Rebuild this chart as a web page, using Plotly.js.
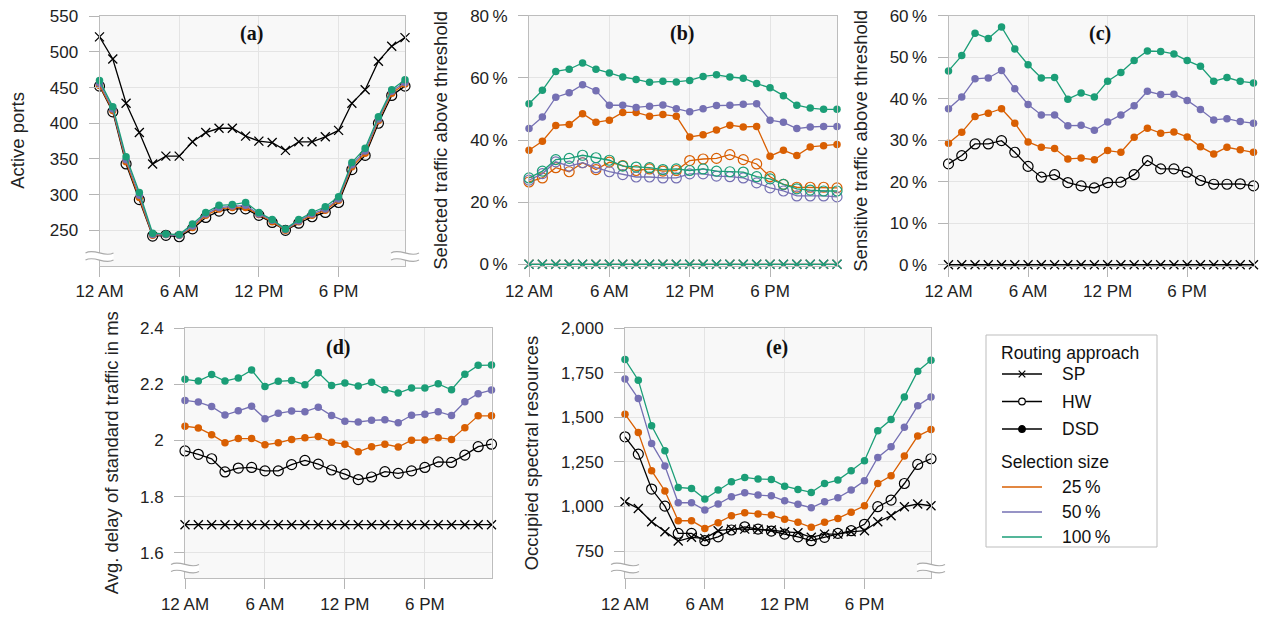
<!DOCTYPE html>
<html>
<head>
<meta charset="utf-8">
<script src="https://cdn.plot.ly/plotly-3.0.1.min.js"></script>
<style>html,body{margin:0;padding:0;background:#fff;}#chart{width:1262px;height:617px;}</style>
</head>
<body>
<div id="chart"></div>
<script>
// ---------------- data ----------------
const hours = [0,1,2,3,4,5,6,7,8,9,10,11,12,13,14,15,16,17,18,19,20,21,22,23];
const tickVals = [0, 6, 12, 18];
const tickLabels = ["12 AM", "6 AM", "12 PM", "6 PM"];
const A_ticks = [250, 300, 350, 400, 450, 500, 550];

// (a) Active ports
const A_SP     = [521,490,428,387,343,354,354,374,387,393,393,382,375,373,362,374,374,381,390,428,447,487,508,520];
const A_HW     = [452,416,343,293,242,243,241,252,268,277,280,280,271,261,250,260,269,275,289,335,355,400,439,452];
const A_DSD25  = [453,418,346,296,243,244,243,254,271,280,282,282,272,262,250,262,271,278,292,339,358,404,442,455];
const A_DSD50  = [456,420,349,299,244,244,243,256,273,282,284,285,273,264,251,263,273,280,294,342,361,406,445,457];
const A_DSD100 = [460,423,353,303,246,245,244,259,275,285,286,289,275,265,252,265,275,283,297,345,365,409,447,461];

// (b) Selected traffic above threshold (%)
const B_SP     = [0,0,0,0,0,0,0,0,0,0,0,0,0,0,0,0,0,0,0,0,0,0,0,0];
const B_HW25   = [26.5,27.8,31.1,29.8,32.7,30.5,32.9,31.8,30.2,30.7,30.0,30.2,33.4,33.9,34.1,35.3,33.7,32.3,28.2,25.7,24.8,24.8,24.8,24.6];
const B_HW50   = [27.1,29.2,33.0,31.6,32.7,31.1,29.8,28.9,28.1,28.1,27.8,27.8,29.1,29.1,28.4,28.2,27.8,26.2,24.6,23.6,22.0,22.0,22.0,21.7];
const B_HW100  = [27.8,30.0,33.7,34.1,35.1,34.3,33.5,31.6,31.3,31.1,30.5,30.7,30.2,30.7,30.0,29.8,29.7,28.2,27.5,25.7,24.3,23.9,23.6,23.6];
const B_DSD25  = [36.7,39.6,44.7,45.0,48.5,45.7,46.4,48.9,48.9,47.7,48.2,47.7,41.0,41.7,43.2,44.8,44.2,44.4,34.8,36.7,35.0,37.8,38.2,38.6];
const B_DSD50  = [43.7,47.4,53.8,55.2,57.8,55.9,51.2,51.2,50.5,50.9,51.3,50.1,49.1,50.1,51.1,51.2,51.5,51.7,46.4,45.7,43.7,44.2,44.4,44.4];
const B_DSD100 = [51.7,56.0,62.1,62.8,64.8,62.8,61.6,60.3,59.5,58.6,58.9,58.7,59.2,60.5,61.0,60.3,59.9,58.2,56.8,54.3,51.2,50.3,49.9,49.9];

// (c) Sensitive traffic above threshold (%)
const C_SP     = [0,0,0,0,0,0,0,0,0,0,0,0,0,0,0,0,0,0,0,0,0,0,0,0];
const C_HW     = [24.3,26.3,29.1,29.1,29.9,27.1,23.7,21.1,21.7,19.8,19.0,18.5,19.8,19.9,21.7,25.1,23.1,23.1,22.3,20.3,19.4,19.4,19.5,19.0];
const C_DSD25  = [29.3,31.9,35.7,36.5,37.6,34.1,29.6,28.3,28.0,25.5,25.7,25.3,27.5,27.1,30.7,32.9,31.7,32.0,30.8,28.4,26.7,28.3,27.7,27.1];
const C_DSD50  = [37.6,40.4,44.8,45.0,46.8,42.4,38.6,36.1,36.1,33.5,33.6,32.4,34.4,36.1,38.3,41.8,41.0,41.1,39.6,37.4,34.9,35.2,34.5,34.1];
const C_DSD100 = [46.7,50.4,55.8,54.5,57.3,52.0,48.2,45.0,45.1,39.9,41.4,40.4,44.2,46.3,49.2,51.5,51.4,50.8,49.2,47.8,44.2,45.1,44.2,43.8];

// (d) Avg. delay of standard traffic (ms)
const D_SP     = [1.7,1.7,1.7,1.7,1.7,1.7,1.7,1.7,1.7,1.7,1.7,1.7,1.7,1.7,1.7,1.7,1.7,1.7,1.7,1.7,1.7,1.7,1.7,1.7];
const D_HW     = [1.963,1.951,1.935,1.888,1.902,1.904,1.892,1.892,1.914,1.929,1.916,1.895,1.880,1.861,1.870,1.889,1.883,1.892,1.904,1.924,1.922,1.948,1.978,1.987];
const D_DSD25  = [2.051,2.045,2.021,1.992,2.007,2.007,1.985,1.992,2.004,2.010,2.014,1.994,1.987,1.960,1.978,1.987,1.977,2.001,2.002,2.010,2.004,2.046,2.088,2.088];
const D_DSD50  = [2.143,2.137,2.121,2.091,2.106,2.122,2.078,2.097,2.105,2.103,2.119,2.089,2.069,2.066,2.072,2.074,2.063,2.090,2.094,2.103,2.089,2.138,2.167,2.180];
const D_DSD100 = [2.218,2.212,2.235,2.212,2.223,2.251,2.193,2.211,2.214,2.199,2.242,2.196,2.205,2.194,2.208,2.181,2.169,2.187,2.187,2.202,2.181,2.236,2.268,2.269];

// (e) Occupied spectral resources
const E_SP     = [1027,989,914,858,806,827,821,864,873,873,872,868,858,853,827,845,845,858,864,914,948,999,1014,1004];
const E_HW     = [1391,1294,1098,1002,849,849,808,830,868,886,873,862,845,830,808,827,849,864,900,999,1036,1129,1236,1268];
const E_DSD25  = [1518,1415,1201,1087,920,920,877,909,948,965,958,952,929,911,883,911,933,967,1004,1129,1172,1283,1395,1432];
const E_DSD50  = [1715,1606,1354,1227,1021,1021,980,1014,1055,1077,1064,1060,1032,1012,993,1027,1049,1092,1144,1275,1335,1444,1565,1615];
const E_DSD100 = [1825,1709,1453,1313,1107,1101,1042,1092,1139,1163,1154,1152,1114,1096,1079,1129,1148,1201,1257,1425,1488,1615,1759,1821];

// ---------------- styling ----------------
const W = 1262, H = 617;
const COL = {sp:'#000000', c25:'#d95f02', c50:'#7570b3', c100:'#1b9e77'};
const FONT = 'Liberation Sans, Arial, Helvetica, sans-serif';
const TITLE_SIZE = 18.5;
const LEGEND_SIZE = 17.5;
const px = v => v / W;
const py = v => 1 - v / H;

function line(x, y, xa, ya, color, kind) {
  const m = {color: color};
  if (kind === 'sp') { m.symbol = 'x-thin-open'; m.size = 9; m.line = {color: color, width: 1.3}; }
  else if (kind === 'hw') { m.symbol = 'circle-open'; m.size = 10; m.line = {color: color, width: 1.2}; }
  else { m.symbol = 'circle'; m.size = 7.5; m.line = {width: 0}; }
  return {x: x, y: y, xaxis: xa, yaxis: ya, type: 'scatter', mode: 'lines+markers',
          line: {color: color, width: 1.3}, marker: m, cliponaxis: false, showlegend: false, hoverinfo: 'x+y'};
}

const traces = [
  // (a)
  line(hours, A_SP, 'x', 'y', COL.sp, 'sp'),
  line(hours, A_HW, 'x', 'y', COL.sp, 'hw'),
  line(hours, A_DSD25, 'x', 'y', COL.c25, 'dsd'),
  line(hours, A_DSD50, 'x', 'y', COL.c50, 'dsd'),
  line(hours, A_DSD100, 'x', 'y', COL.c100, 'dsd'),
  // (b)
  line(hours, B_HW25, 'x2', 'y2', COL.c25, 'hw'),
  line(hours, B_HW50, 'x2', 'y2', COL.c50, 'hw'),
  line(hours, B_HW100, 'x2', 'y2', COL.c100, 'hw'),
  line(hours, B_DSD25, 'x2', 'y2', COL.c25, 'dsd'),
  line(hours, B_DSD50, 'x2', 'y2', COL.c50, 'dsd'),
  line(hours, B_DSD100, 'x2', 'y2', COL.c100, 'dsd'),
  line(hours, B_SP, 'x2', 'y2', COL.c25, 'sp'),
  line(hours, B_SP, 'x2', 'y2', COL.c50, 'sp'),
  line(hours, B_SP, 'x2', 'y2', COL.c100, 'sp'),
  // (c)
  line(hours, C_SP, 'x3', 'y3', COL.sp, 'sp'),
  line(hours, C_HW, 'x3', 'y3', COL.sp, 'hw'),
  line(hours, C_DSD25, 'x3', 'y3', COL.c25, 'dsd'),
  line(hours, C_DSD50, 'x3', 'y3', COL.c50, 'dsd'),
  line(hours, C_DSD100, 'x3', 'y3', COL.c100, 'dsd'),
  // (d)
  line(hours, D_SP, 'x4', 'y4', COL.sp, 'sp'),
  line(hours, D_HW, 'x4', 'y4', COL.sp, 'hw'),
  line(hours, D_DSD25, 'x4', 'y4', COL.c25, 'dsd'),
  line(hours, D_DSD50, 'x4', 'y4', COL.c50, 'dsd'),
  line(hours, D_DSD100, 'x4', 'y4', COL.c100, 'dsd'),
  // (e)
  line(hours, E_SP, 'x5', 'y5', COL.sp, 'sp'),
  line(hours, E_HW, 'x5', 'y5', COL.sp, 'hw'),
  line(hours, E_DSD25, 'x5', 'y5', COL.c25, 'dsd'),
  line(hours, E_DSD50, 'x5', 'y5', COL.c50, 'dsd'),
  line(hours, E_DSD100, 'x5', 'y5', COL.c100, 'dsd')
];

const common = {
  showline: true, linecolor: '#bdbdbd', linewidth: 1, mirror: true,
  showgrid: true, gridcolor: '#e4e4e4', gridwidth: 1, zeroline: false,
  ticks: 'outside', ticklen: 10, tickcolor: '#b5b5b5', tickwidth: 1,
  tickfont: {family: FONT, size: 17, color: '#222'}, fixedrange: true
};
function xaxis(l, r, anchor) {
  return Object.assign({}, common, {domain: [px(l), px(r)], range: [0, 23], tickmode: 'array',
    tickvals: tickVals, ticktext: tickLabels, anchor: anchor});
}
function yaxis(t, b, anchor, range, extra) {
  return Object.assign({}, common, {domain: [py(b), py(t)], range: range, anchor: anchor, ticklabelstandoff: 7}, extra);
}

// panel pixel boxes
const PA = {l: 99.5, r: 405, t: 15.5, b: 266};
const PB = {l: 529, r: 837, t: 15.5, b: 266};
const PC = {l: 948.5, r: 1253.5, t: 15.5, b: 266};
const PD = {l: 185, r: 491.5, t: 328.3, b: 578.3};
const PE = {l: 625, r: 931, t: 328.3, b: 578.3};

const layout = {
  width: W, height: H, margin: {l: 0, r: 0, t: 0, b: 0},
  paper_bgcolor: '#ffffff', plot_bgcolor: '#f8f8f8', showlegend: false,
  font: {family: FONT, size: 17, color: '#222'},
  xaxis: xaxis(PA.l, PA.r, 'y'),
  yaxis: yaxis(PA.t, PA.b, 'x', [200, 551], {tickmode: 'array', tickvals: A_ticks}),
  xaxis2: xaxis(PB.l, PB.r, 'y2'),
  yaxis2: yaxis(PB.t, PB.b, 'x2', [-0.55, 80.1], {dtick: 20, tick0: 0, ticksuffix: '\u2009%'}),
  xaxis3: xaxis(PC.l, PC.r, 'y3'),
  yaxis3: yaxis(PC.t, PC.b, 'x3', [-0.3, 60.05], {dtick: 10, tick0: 0, ticksuffix: '\u2009%'}),
  xaxis4: xaxis(PD.l, PD.r, 'y4'),
  yaxis4: yaxis(PD.t, PD.b, 'x4', [1.509, 2.4], {dtick: 0.2, tick0: 0}),
  xaxis5: xaxis(PE.l, PE.r, 'y5'),
  yaxis5: yaxis(PE.t, PE.b, 'x5', [597, 2000], {dtick: 250, tick0: 0, tickformat: ',d'}),
  shapes: [],
  annotations: []
};

// y-axis titles (rotated text)
const yTitles = [['Active ports', 18, PA], ['Selected traffic above threshold', 441, PB],
  ['Sensitive traffic above threshold', 861, PC], ['Avg. delay of standard traffic in ms', 111, PD],
  ['Occupied spectral resources', 531, PE]];
yTitles.forEach(t => layout.annotations.push({text: t[0], xref: 'paper', yref: 'paper',
  x: px(t[1]), y: py((t[2].t + t[2].b) / 2), xanchor: 'center', yanchor: 'middle', textangle: -90,
  showarrow: false, font: {family: FONT, size: TITLE_SIZE, color: '#222'}}));

// panel letters
const letters = [['(a)', 251.7, 34], ['(b)', 681.7, 33], ['(c)', 1100, 33], ['(d)', 338, 347], ['(e)', 777, 347]];
letters.forEach(l => layout.annotations.push({text: '<b>' + l[0] + '</b>', xref: 'paper', yref: 'paper',
  x: px(l[1]), y: py(l[2]), xanchor: 'center', yanchor: 'middle', showarrow: false,
  font: {family: 'Liberation Serif, Times New Roman, serif', size: 20, color: '#111'}}));

// axis-break marks
function brk(cx, cy) {
  const w = 14, a = 2.6, g = 3.6;
  function curve(y) {
    return 'M' + px(cx - w) + ',' + py(y) + ' C' + px(cx - w / 3) + ',' + py(y - 2 * a) + ' ' +
      px(cx + w / 3) + ',' + py(y + 2 * a) + ' ' + px(cx + w) + ',' + py(y);
  }
  const y1 = cy - g, y2 = cy + g;
  const fill = 'M' + px(cx - w) + ',' + py(y1) + ' C' + px(cx - w / 3) + ',' + py(y1 - 2 * a) + ' ' +
    px(cx + w / 3) + ',' + py(y1 + 2 * a) + ' ' + px(cx + w) + ',' + py(y1) +
    ' L' + px(cx + w) + ',' + py(y2) + ' C' + px(cx + w / 3) + ',' + py(y2 + 2 * a) + ' ' +
    px(cx - w / 3) + ',' + py(y2 - 2 * a) + ' ' + px(cx - w) + ',' + py(y2) + ' Z';
  layout.shapes.push({type: 'path', xref: 'paper', yref: 'paper', path: fill, fillcolor: '#ffffff', line: {width: 0}, layer: 'above'});
  layout.shapes.push({type: 'path', xref: 'paper', yref: 'paper', path: curve(y1), line: {color: '#aaaaaa', width: 1.1}, layer: 'above'});
  layout.shapes.push({type: 'path', xref: 'paper', yref: 'paper', path: curve(y2), line: {color: '#aaaaaa', width: 1.1}, layer: 'above'});
}
brk(PA.l, 256.5); brk(PA.r, 256.5);
brk(PD.l, 568); brk(PE.l, 568); brk(PE.r, 568);

// legend (drawn manually)
const LG = {l: 986, r: 1157, t: 335, b: 547};
layout.shapes.push({type: 'rect', xref: 'paper', yref: 'paper', x0: px(LG.l), x1: px(LG.r), y0: py(LG.b), y1: py(LG.t),
  line: {color: '#bdbdbd', width: 1}, fillcolor: '#ffffff'});
function lgText(t, x, y) {
  layout.annotations.push({text: t, xref: 'paper', yref: 'paper', x: px(x), y: py(y), xanchor: 'left', yanchor: 'middle',
    showarrow: false, font: {family: FONT, size: LEGEND_SIZE, color: '#111'}});
}
function lgLine(y, color) {
  layout.shapes.push({type: 'line', xref: 'paper', yref: 'paper', x0: px(1002), x1: px(1042), y0: py(y), y1: py(y),
    line: {color: color, width: 1.3}});
}
lgText('Routing approach', 999, 352.5);
lgText('Selection size', 999, 462);
const rows = [['SP', 374, 'sp'], ['HW', 401.5, 'hw'], ['DSD', 429, 'dsd']];
rows.forEach(r => {
  lgLine(r[1], '#000');
  lgText(r[0], 1060, r[1]);
  const cx = 1022, cy = r[1], s = 3.3;
  if (r[2] === 'sp') {
    layout.shapes.push({type: 'line', xref: 'paper', yref: 'paper', x0: px(cx - s), x1: px(cx + s), y0: py(cy - s), y1: py(cy + s), line: {color: '#000', width: 1.2}});
    layout.shapes.push({type: 'line', xref: 'paper', yref: 'paper', x0: px(cx - s), x1: px(cx + s), y0: py(cy + s), y1: py(cy - s), line: {color: '#000', width: 1.2}});
  } else {
    layout.shapes.push({type: 'circle', xref: 'paper', yref: 'paper', x0: px(cx - s), x1: px(cx + s), y0: py(cy - s), y1: py(cy + s),
      line: {color: '#000', width: 1.2}, fillcolor: r[2] === 'hw' ? '#ffffff' : '#000000'});
  }
});
const srows = [['25\u2009%', 487, COL.c25], ['50\u2009%', 512, COL.c50], ['100\u2009%', 537, COL.c100]];
srows.forEach(r => { lgLine(r[1], r[2]); lgText(r[0], 1060, r[1]); });

Plotly.newPlot('chart', traces, layout, {displayModeBar: false, staticPlot: true});
</script>
</body>
</html>
